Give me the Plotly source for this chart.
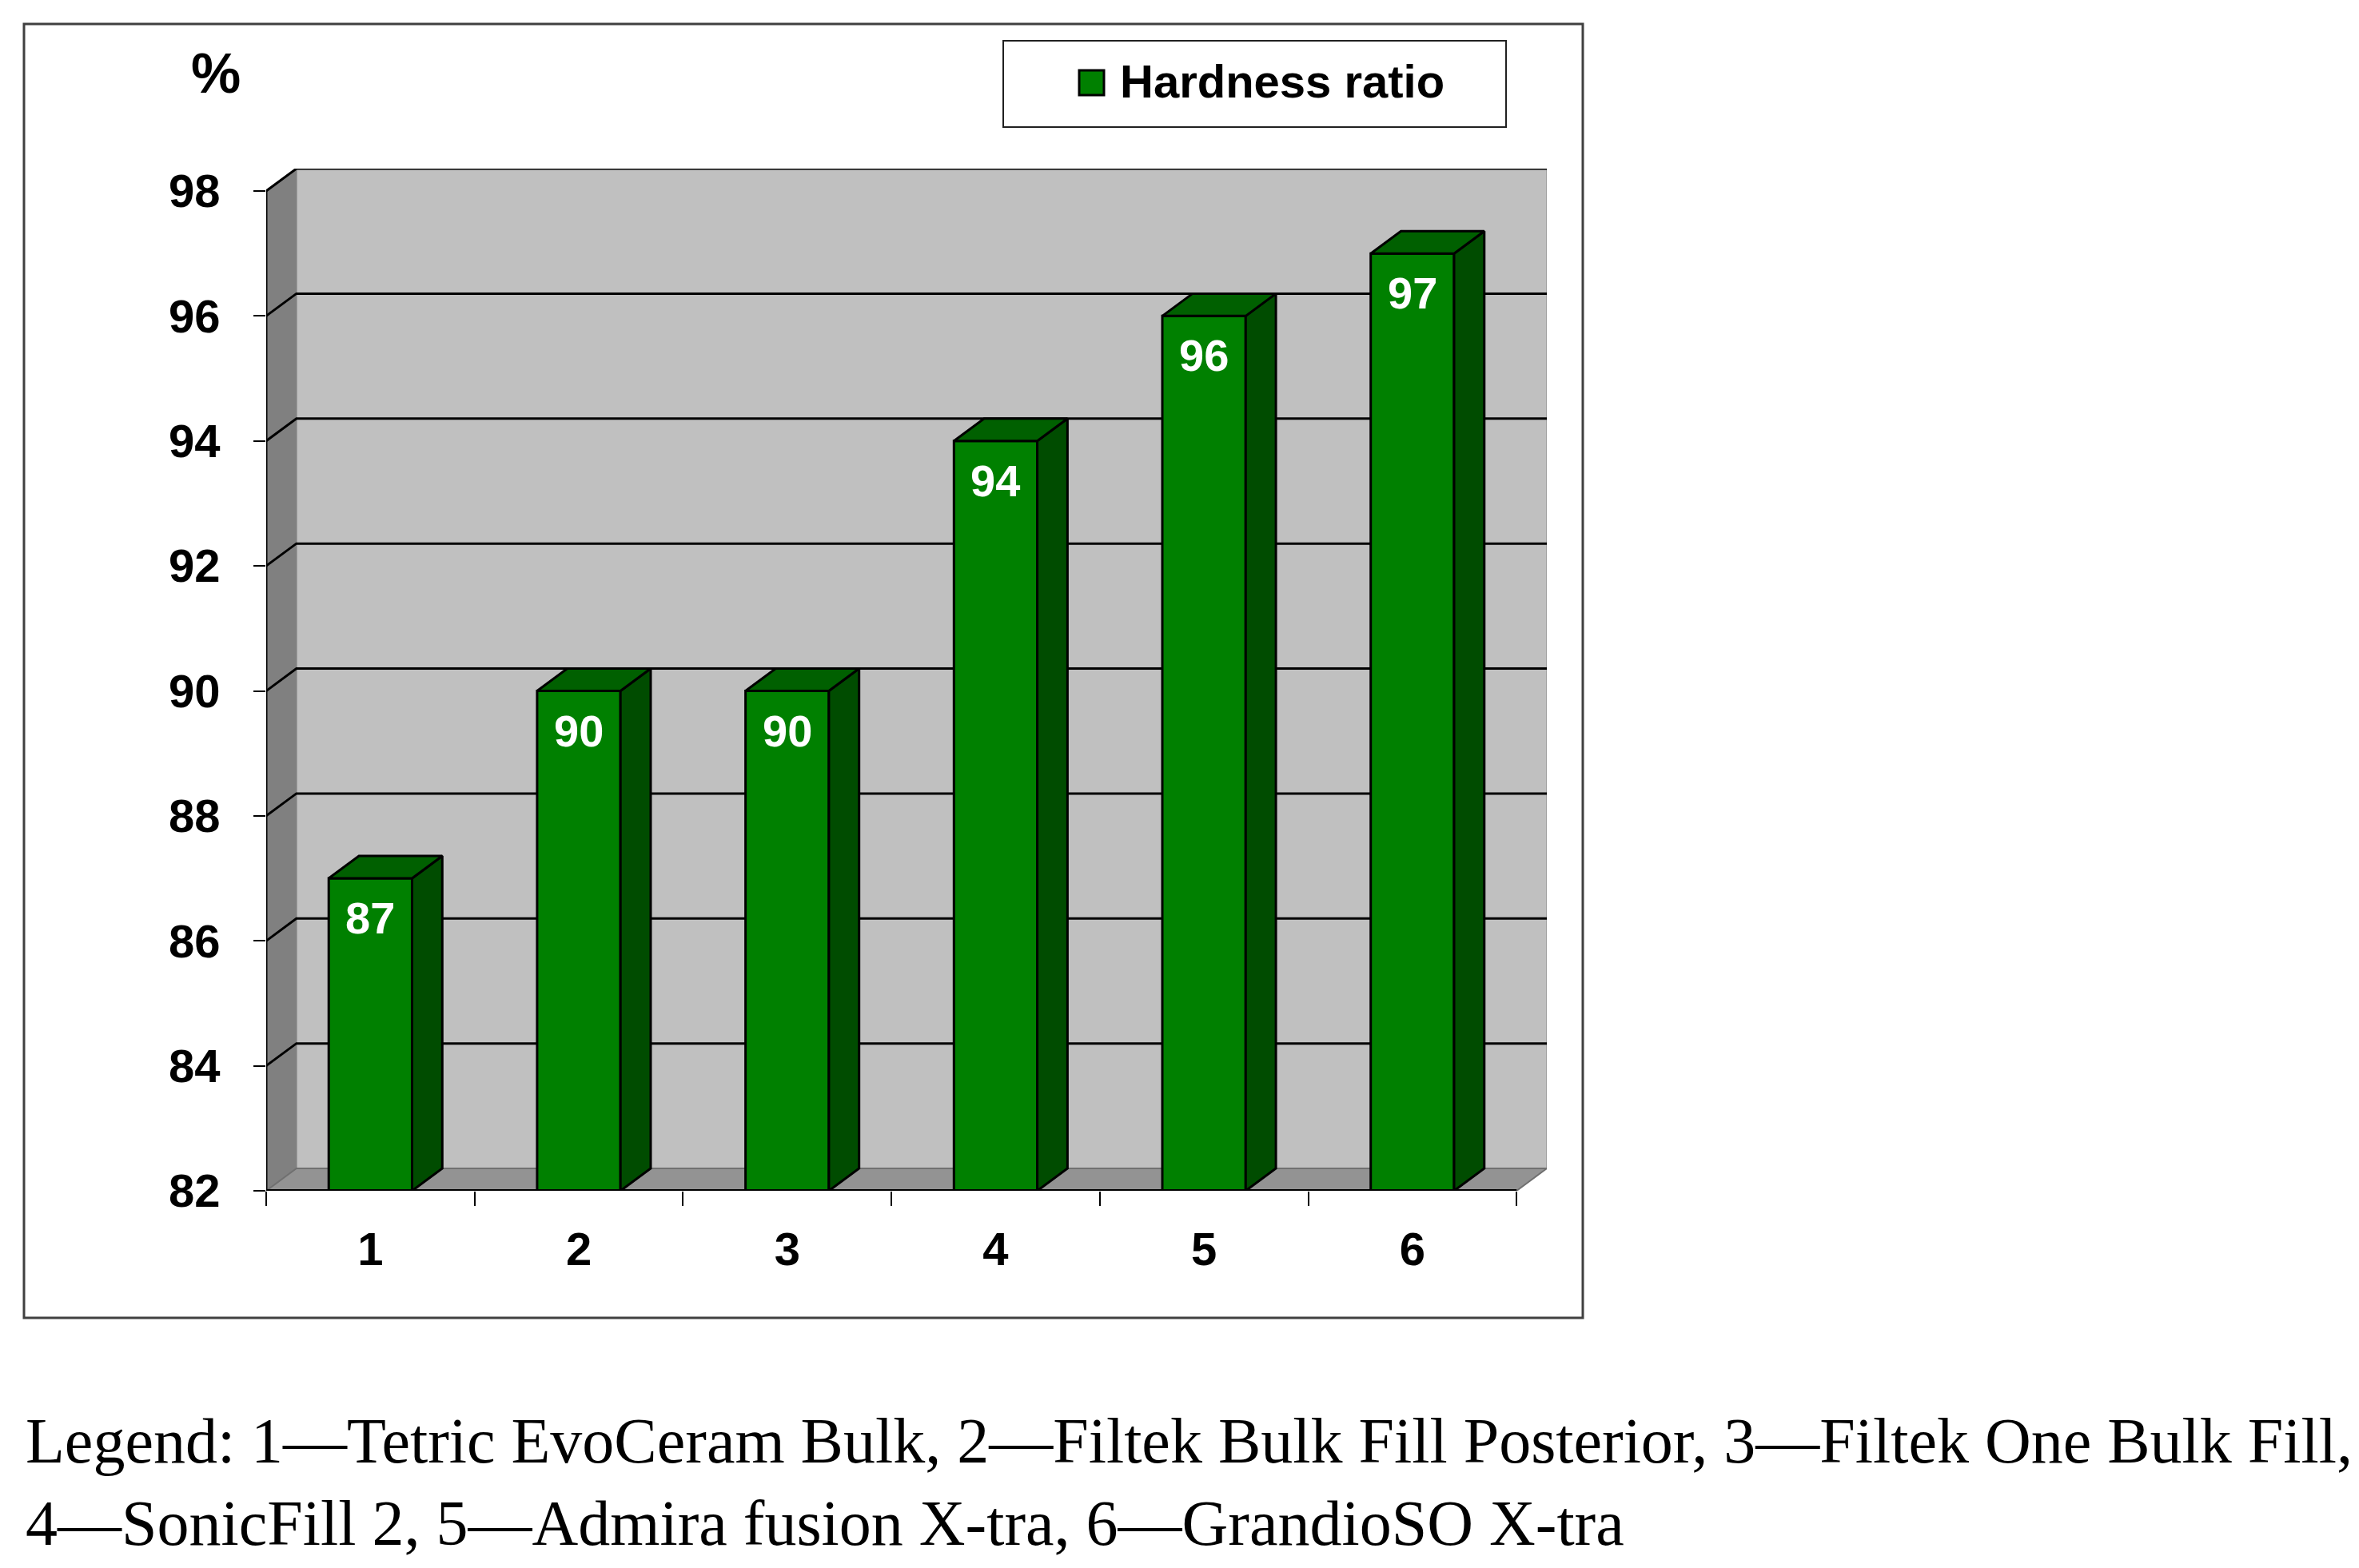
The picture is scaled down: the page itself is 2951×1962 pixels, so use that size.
import plotly.graph_objects as go

# data
categories = ['1', '2', '3', '4', '5', '6']
hardness = [87, 90, 90, 94, 96, 97]
y_ticks = [82, 84, 86, 88, 90, 92, 94, 96, 98]
series_name = 'Hardness ratio'
caption_1 = 'Legend: 1\u2014Tetric EvoCeram Bulk, 2\u2014Filtek Bulk Fill Posterior, 3\u2014Filtek One Bulk Fill,'
caption_2 = '4\u2014SonicFill 2, 5\u2014Admira fusion X-tra, 6\u2014GrandioSO X-tra'

# page geometry (px); the page body has an 8px margin
W, H = 2951, 1962
OFF = 8
L, T = 333 - OFF, 211 - OFF
PW, PH = 1602, 1279
R, B = W - L - PW, H - T - PH

# fake 3d depth in data units
DX, DY = 0.145, 0.358
BAR_W = 0.4

xs = list(range(1, len(categories) + 1))
x0, x1 = 0.5, len(categories) + 0.5
y0, y1 = y_ticks[0], y_ticks[-1]


# screen position (as in the picture) -> paper fraction
def px(x):
    return (x - OFF - L) / PW


def py(y):
    return (T + PH - (y - OFF)) / PH


def path(pts):
    return 'M ' + ' L '.join(f'{a},{b}' for a, b in pts) + ' Z'


shapes = []
# back wall, side wall, floor
shapes.append(dict(type='path', xref='x', yref='y', layer='below',
                   path=path([(x0 + DX, y0 + DY), (x1 + DX, y0 + DY), (x1 + DX, y1 + DY), (x0 + DX, y1 + DY)]),
                   fillcolor='#C0C0C0', line=dict(color='#A0A0A0', width=2)))
shapes.append(dict(type='path', xref='x', yref='y', layer='below',
                   path=path([(x0, y0), (x0 + DX, y0 + DY), (x0 + DX, y1 + DY), (x0, y1)]),
                   fillcolor='#808080', line=dict(color='#808080', width=1)))
shapes.append(dict(type='path', xref='x', yref='y', layer='below',
                   path=path([(x0, y0), (x1, y0), (x1 + DX, y0 + DY), (x0 + DX, y0 + DY)]),
                   fillcolor='#939393', line=dict(color='#707070', width=2)))
# gridlines on side + back walls
for v in y_ticks[1:]:
    shapes.append(dict(type='path', xref='x', yref='y', layer='below',
                       path=f'M {x0},{v} L {x0 + DX},{v + DY} L {x1 + DX},{v + DY}',
                       line=dict(color='black', width=3)))
# front axis lines
shapes.append(dict(type='line', xref='x', yref='y', x0=x0, x1=x0, y0=y0, y1=y1,
                   line=dict(color='black', width=3)))
shapes.append(dict(type='line', xref='x', yref='y', x0=x0, x1=x1, y0=y0, y1=y0,
                   line=dict(color='black', width=4)))

# outer frame
shapes.append(dict(type='rect', xref='paper', yref='paper', x0=px(30), x1=px(1980), y0=py(1649), y1=py(30),
                   line=dict(color='#404040', width=3)))
# legend box
shapes.append(dict(type='rect', xref='paper', yref='paper', x0=px(1255), x1=px(1884), y0=py(159), y1=py(51),
                   line=dict(color='#202020', width=2), fillcolor='white'))
shapes.append(dict(type='rect', xref='paper', yref='paper', x0=px(1350), x1=px(1381), y0=py(119), y1=py(88),
                   line=dict(color='black', width=3), fillcolor='#008000'))

fig = go.Figure()

# front faces
fig.add_trace(go.Bar(x=xs, y=hardness, width=BAR_W, name=series_name,
                     marker=dict(color='#008000', line=dict(color='black', width=3)),
                     showlegend=False))

# side and top faces
side_x, side_y, top_x, top_y = [], [], [], []
for x, v in zip(xs, hardness):
    r = x + BAR_W / 2
    l = x - BAR_W / 2
    side_x += [r, r + DX, r + DX, r, r, None]
    side_y += [y0, y0 + DY, v + DY, v, y0, None]
    top_x += [l, r, r + DX, l + DX, l, None]
    top_y += [v, v, v + DY, v + DY, v, None]

fig.add_trace(go.Scatter(x=side_x, y=side_y, mode='lines', fill='toself', fillcolor='#004C00',
                         line=dict(color='black', width=3), hoverinfo='skip', showlegend=False))
fig.add_trace(go.Scatter(x=top_x, y=top_y, mode='lines', fill='toself', fillcolor='#006000',
                         line=dict(color='black', width=3), hoverinfo='skip', showlegend=False))

annotations = []
for x, v in zip(xs, hardness):
    annotations.append(dict(x=x, y=v, xref='x', yref='y', text=f'<b>{v}</b>', showarrow=False,
                            yanchor='top', yshift=-16,
                            font=dict(family='Liberation Sans, Arial', size=56, color='white')))

annotations.append(dict(x=px(270), y=py(92), xref='paper', yref='paper', text='<b>%</b>', showarrow=False,
                        xanchor='center', yanchor='middle',
                        font=dict(family='Liberation Sans, Arial', size=70, color='black')))
annotations.append(dict(x=px(1399), y=py(101), xref='paper', yref='paper', text=f'<b>{series_name}</b>',
                        showarrow=False, xanchor='left', yanchor='middle',
                        font=dict(family='Liberation Sans, Arial', size=58, color='black')))
annotations.append(dict(x=px(30), y=py(1803), xref='paper', yref='paper', text=caption_1, showarrow=False,
                        xanchor='left', yanchor='middle',
                        font=dict(family='Liberation Serif, Times New Roman', size=80, color='black')))
annotations.append(dict(x=px(30), y=py(1906), xref='paper', yref='paper', text=caption_2, showarrow=False,
                        xanchor='left', yanchor='middle',
                        font=dict(family='Liberation Serif, Times New Roman', size=80, color='black')))

fig.update_layout(
    width=W, height=H,
    margin=dict(l=L, r=R, t=T, b=B, autoexpand=False),
    paper_bgcolor='white', plot_bgcolor='rgba(0,0,0,0)',
    shapes=shapes, annotations=annotations,
    showlegend=False,
    xaxis=dict(range=[x0, x1 + DX], tickvals=xs, ticktext=categories, ticks='',
               showgrid=False, zeroline=False, showline=False, ticklabelstandoff=34,
               tickfont=dict(family='Liberation Sans, Arial', size=58, color='black', weight='bold'),
               minor=dict(tickmode='array', tickvals=[x - 0.5 for x in xs] + [x1], ticks='outside',
                          ticklen=18, tickwidth=2, tickcolor='black', showgrid=False)),
    yaxis=dict(range=[y0, y1 + DY], tickvals=y_ticks, ticks='outside', ticklen=15, tickwidth=2,
               tickcolor='black', showgrid=False, zeroline=False, showline=False, ticklabelstandoff=30,
               tickfont=dict(family='Liberation Sans, Arial', size=58, color='black', weight='bold')),
)

fig.write_html('out.html')
